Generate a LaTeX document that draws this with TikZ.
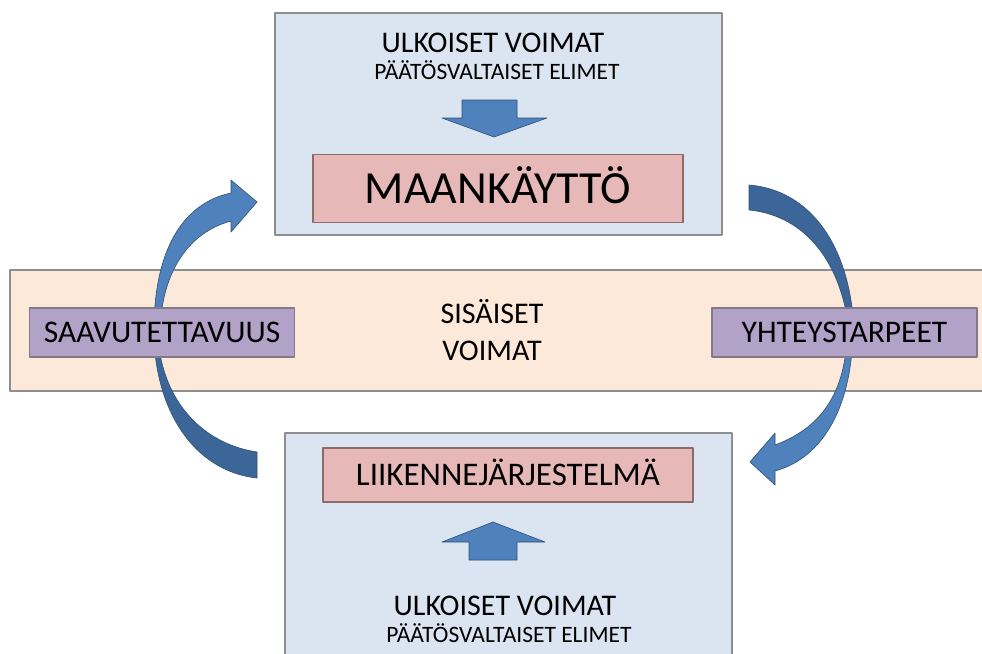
\documentclass[tikz,border=0pt]{standalone}
\usepackage{fontspec}
\setmainfont{Carlito}
\usetikzlibrary{positioning}
\definecolor{kehys}{HTML}{DBE5F1}
\definecolor{kehysviiva}{HTML}{8E8E8E}
\definecolor{vyo}{HTML}{FDE9D9}
\definecolor{punainen}{HTML}{E6B9B8}
\definecolor{punaviiva}{HTML}{8C6B6B}
\definecolor{violetti}{HTML}{B3A2C7}
\definecolor{violettiviiva}{HTML}{7F7A85}
\definecolor{sininen}{HTML}{4F81BD}
\definecolor{tummasininen}{HTML}{3C6698}
\definecolor{sininenviiva}{HTML}{2F5077}
\tikzset{
  ulkolaatikko/.style={draw=kehysviiva,fill=kehys,line width=1.5pt},
  keskilaatikko/.style={draw=punaviiva,fill=punainen,line width=1.2pt,inner sep=0pt,text depth=0pt},
  sivulaatikko/.style={draw=violettiviiva,fill=violetti,line width=1.2pt,minimum width=265pt,minimum height=49pt,inner sep=0pt,text height=20pt,text depth=0pt,font=\fontsize{31.5}{33}\selectfont},
  otsikko/.style={anchor=base,inner sep=0pt,font=\fontsize{30}{32}\selectfont},
  alaotsikko/.style={anchor=base,inner sep=0pt,font=\fontsize{23.5}{25}\selectfont},
  nuoli/.style={draw=sininenviiva,line width=0.6pt,line join=round}
}
\begin{document}
\begin{tikzpicture}[line cap=round,line join=round,x=1pt,y=-1pt]
		\clip(0,0) rectangle (982,653);
		\fill[white] (0,0) rectangle (982,653);
		\draw [draw=kehysviiva,fill=vyo,line width=1.5pt] (10,270) rectangle (995,391);
		\draw [ulkolaatikko] (275,13) rectangle (722,235);
		\draw [ulkolaatikko] (285,433) rectangle (732,670);
		\node[otsikko] (ulko1) at (493,52) {ULKOISET VOIMAT};
		\node[alaotsikko] (paatos1) at (497,79) {PÄÄTÖSVALTAISET ELIMET};
		\node[keskilaatikko,minimum width=370pt,minimum height=68pt,text height=29pt,font=\fontsize{46}{48}\selectfont] (maa) at (498,188.5) {MAANKÄYTTÖ};
		\node[keskilaatikko,minimum width=370pt,minimum height=54pt,text height=20.5pt,font=\fontsize{33}{35}\selectfont] (liike) at (508,475) {LIIKENNEJÄRJESTELMÄ};
		\node[otsikko] (ulko2) at (505,615) {ULKOISET VOIMAT};
		\node[alaotsikko] (paatos2) at (509,642) {PÄÄTÖSVALTAISET ELIMET};
		\node[otsikko] (sis1) at (492,323) {SISÄISET};
		\node[otsikko] (sis2) at (492,360) {VOIMAT};
		\draw [nuoli,fill=sininen] (462,100) -- (517,100) -- (517,118) -- (547,118) -- (494,137) -- (442,118) -- (462,118) -- cycle;
		\draw [nuoli,fill=sininen] (469,560) -- (517,560) -- (517,542) -- (545,542) -- (493,522) -- (442,542) -- (469,542) -- cycle;
		\draw [nuoli,fill=tummasininen] (257,478) .. controls (200,472) and (158,420) .. (154,340) -- (158,340) .. controls (165,410) and (210,445) .. (257,452) -- cycle;
		\draw [nuoli,fill=sininen] (154,330) .. controls (154,250) and (183,203) .. (231,193) -- (231,180) -- (257,202) -- (231,232) -- (231,221) .. controls (190,232) and (162,270) .. (160,330) -- cycle;
		\draw [nuoli,fill=tummasininen] (749,185) .. controls (810,190) and (850,245) .. (854,330) -- (849,330) .. controls (840,255) and (800,215) .. (749,210) -- cycle;
		\draw [nuoli,fill=sininen] (853,335) .. controls (850,420) and (815,460) .. (775,471) -- (775,485) -- (750,462) -- (775,433) -- (775,445) .. controls (815,430) and (845,400) .. (847,335) -- cycle;
		\node[sivulaatikko] (saavu) at (162,332.5) {SAAVUTETTAVUUS};
		\node[sivulaatikko] (yhteys) at (844.5,332.5) {YHTEYSTARPEET};
	\end{tikzpicture}
\end{document}
